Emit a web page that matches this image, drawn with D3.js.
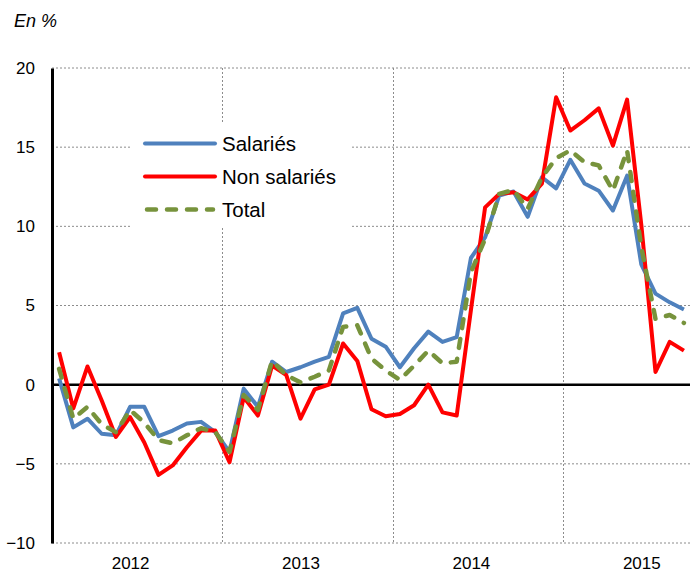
<!DOCTYPE html>
<html>
<head>
<meta charset="utf-8">
<script src="https://cdn.jsdelivr.net/npm/d3@7"></script>
<style>
    body { margin: 0; background: #fff; }
    svg { display: block; font-family: "Liberation Sans", Arial, sans-serif; }
</style>
</head>
<body>
<div id="chart"></div>
<script>
// Monthly values, Jan 2012 -> Sep 2015 (en %)
const years = [2012, 2013, 2014, 2015];
const yTicks = [-10, -5, 0, 5, 10, 15, 20];

const salaries = [0.4, -2.7, -2.15, -3.1, -3.2, -1.4, -1.4, -3.25, -2.9, -2.45, -2.35, -3.0,
    -4.25, -0.25, -1.4, 1.45, 0.8, 1.1, 1.45, 1.75, 4.5, 4.85, 2.9, 2.4,
    1.1, 2.3, 3.35, 2.7, 3.0, 8.0, 9.3, 11.95, 12.2, 10.6, 13.1, 12.4,
    14.2, 12.7, 12.25, 11.0, 13.2, 7.6, 5.75, 5.2, 4.75];

const nonSalaries = [2.05, -1.5, 1.15, -1.0, -3.3, -2.05, -3.65, -5.7, -5.1, -3.95, -2.9, -2.9,
    -4.9, -0.8, -1.95, 1.2, 0.6, -2.15, -0.3, 0.0, 2.6, 1.5, -1.55, -2.0,
    -1.85, -1.3, 0.0, -1.75, -1.95, 4.7, 11.2, 12.05, 12.15, 11.7, 12.7, 18.15,
    16.05, 16.7, 17.45, 15.1, 18.0, 10.1, 0.8, 2.7, 2.15];

const total = [1.0, -2.15, -1.4, -2.5, -3.0, -1.6, -2.4, -3.5, -3.7, -3.2, -2.75, -3.0,
    -4.25, -0.65, -1.6, 1.5, 0.6, 0.15, 0.5, 0.9, 3.65, 3.75, 1.65, 0.9,
    0.3, 1.2, 2.15, 1.35, 1.45, 7.1, 9.2, 12.05, 12.3, 11.1, 13.1, 14.3,
    14.8, 14.05, 13.85, 12.25, 14.8, 8.7, 4.15, 4.4, 3.9];

const seriesNames = ["Salariés", "Non salariés", "Total"];

const params = {
    width: 690,
    height: 572,
    left: 52,
    right: 691,
    top: 68,
    bottom: 543,
    colors: ["#4f81bd", "#ff0000", "#77933c"]
};

const series = [salaries, nonSalaries, total].map((values, k) => ({
    name: seriesNames[k],
    color: params.colors[k],
    dashed: k === 2,
    values: values
}));

const svg = d3.select("#chart")
    .append("svg")
    .attr("width", params.width)
    .attr("height", params.height);

const nMonths = salaries.length;

const x = d3.scaleLinear()
    .domain([0, nMonths])
    .range([params.left, params.right]);

const y = d3.scaleLinear()
    .domain([-10, 20])
    .range([params.bottom, params.top]);

// unit label
svg.append("text")
    .attr("x", 14)
    .attr("y", 27)
    .style("font-size", "18px")
    .style("font-style", "italic")
    .text("En %");

// horizontal grid
svg.append("g")
    .selectAll("line")
    .data(yTicks.filter(d => d !== 0))
    .enter().append("line")
    .attr("x1", params.left)
    .attr("x2", params.right)
    .attr("y1", d => y(d))
    .attr("y2", d => y(d))
    .attr("stroke", "#8c8c8c")
    .attr("stroke-width", 1)
    .attr("stroke-dasharray", "2,2");

// vertical grid at year boundaries
svg.append("g")
    .selectAll("line")
    .data(years.slice(1).map((yr, i) => (i + 1) * 12))
    .enter().append("line")
    .attr("x1", d => Math.round(x(d)) + 0.5)
    .attr("x2", d => Math.round(x(d)) + 0.5)
    .attr("y1", params.top)
    .attr("y2", params.bottom)
    .attr("stroke", "#8c8c8c")
    .attr("stroke-width", 1)
    .attr("stroke-dasharray", "2,2");

// zero line
svg.append("line")
    .attr("x1", params.left)
    .attr("x2", params.right)
    .attr("y1", y(0))
    .attr("y2", y(0))
    .attr("stroke", "#000")
    .attr("stroke-width", 2.5);

// y axis
const yAxis = svg.append("g")
    .attr("transform", `translate(${params.left},0)`)
    .call(d3.axisLeft(y).tickValues(yTicks).tickSize(0).tickSizeOuter(0).tickPadding(17));
yAxis.select(".domain").attr("stroke", "#000").attr("stroke-width", 3);
yAxis.selectAll("text")
    .style("font-size", "17px")
    .style("font-family", "\"Liberation Sans\", Arial, sans-serif")
    .attr("fill", "#000");

// x axis labels (years)
const xAxis = svg.append("g")
    .attr("transform", `translate(0,${params.bottom})`)
    .call(d3.axisBottom(x)
        .tickValues(years.map((yr, i) => i * 12 + 5.5))
        .tickFormat((d, i) => years[i])
        .tickSize(0)
        .tickPadding(14));
xAxis.select(".domain").remove();
xAxis.selectAll("text")
    .style("font-size", "17px")
    .style("font-family", "\"Liberation Sans\", Arial, sans-serif")
    .attr("fill", "#000");

// lines
const line = d3.line()
    .x((d, i) => x(i + 0.5))
    .y(d => y(d));

svg.append("g")
    .selectAll("path")
    .data(series)
    .enter().append("path")
    .attr("d", d => line(d.values))
    .attr("fill", "none")
    .attr("stroke", d => d.color)
    .attr("stroke-width", d => d.dashed ? 4.5 : 4)
    .attr("stroke-linejoin", "round")
    .attr("stroke-linecap", d => d.dashed ? "round" : "butt")
    .attr("stroke-dasharray", d => d.dashed ? "9,11" : null);

// legend
const legendBox = svg.append("g");
legendBox.append("rect")
    .attr("x", 130)
    .attr("y", 124)
    .attr("width", 220)
    .attr("height", 104)
    .attr("fill", "#fff");

const legend = legendBox.selectAll(".legend")
    .data(series)
    .enter().append("g")
    .attr("class", "legend")
    .attr("transform", (d, i) => `translate(0,${143.5 + i * 33})`);

legend.append("line")
    .attr("x1", d => d.dashed ? 147 : 145)
    .attr("x2", d => d.dashed ? 213 : 215)
    .attr("stroke", d => d.color)
    .attr("stroke-width", d => d.dashed ? 4.5 : 4)
    .attr("stroke-linecap", "round")
    .attr("stroke-dasharray", d => d.dashed ? "9,11" : null);

legend.append("text")
    .attr("x", 222)
    .attr("dy", "0.35em")
    .style("font-size", "20.5px")
    .text(d => d.name);
</script>
</body>
</html>
